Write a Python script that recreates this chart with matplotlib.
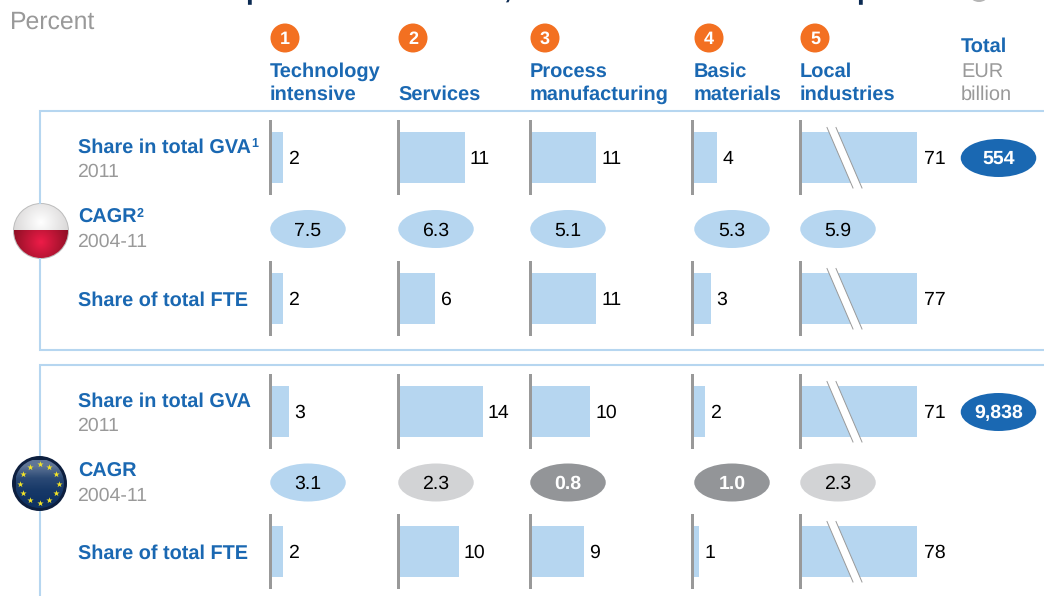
import matplotlib
matplotlib.use('Agg')
import matplotlib.pyplot as plt
import numpy as np
from matplotlib.colors import LinearSegmentedColormap
from matplotlib.patches import Circle, Ellipse, Polygon, Rectangle

plt.rcParams['font.family'] = ['Liberation Sans', 'DejaVu Sans']
plt.rcParams['text.hinting'] = 'no_hinting'

sectors = ['Technology\nintensive', 'Services', 'Process\nmanufacturing', 'Basic\nmaterials', 'Local\nindustries']
pl_gva = [2, 11, 11, 4, 71]
pl_cagr = [7.5, 6.3, 5.1, 5.3, 5.9]
pl_fte = [2, 6, 11, 3, 77]
eu_gva = [3, 14, 10, 2, 71]
eu_cagr = [3.1, 2.3, 0.8, 1.0, 2.3]
eu_fte = [2, 10, 9, 1, 78]
totals = ['554', '9,838']
pl_shade = ['blue', 'blue', 'blue', 'blue', 'blue']
eu_shade = ['blue', 'light', 'dark', 'dark', 'light']

BLUE = '#1a68b2'
LIGHT = '#b6d6f0'
GREY = '#999999'
ORANGE = '#f37021'
col_x = [270, 398, 530, 694, 800]
axis_x = [270.5, 398.5, 530, 692.7, 800]
px_per_unit = 6
broken_w = 117

fig = plt.figure(figsize=(10.44, 5.96), dpi=100)
ax = fig.add_axes([0, 0, 1, 1])
ax.set_xlim(0, 1044)
ax.set_ylim(596, 0)
ax.axis('off')

# only the descenders of the cropped headline are left in the picture
for x, ch in [(245.5, 'p'), (503, ','), (856.5, 'p')]:
    ax.text(x, -2, ch, fontsize=20, fontweight='bold', color='#0b2a52', va='baseline')
ax.add_patch(Ellipse((979, -5), 18, 14, color='#b5b5b5', lw=0))

ax.text(10, 22.5, 'Percent', fontsize=17.8, color=GREY, va='center')

for i, (x, name) in enumerate(zip(col_x, sectors)):
    ax.add_patch(Circle((x + 15, 38), 14.5, color=ORANGE, lw=0))
    ax.text(x + 15, 39, str(i + 1), color='white', fontsize=13, fontweight='bold', ha='center', va='center')
    lines = name.split('\n')
    ax.text(x, 94.5, lines[-1], color=BLUE, fontsize=14.4, fontweight='bold', va='center')
    if len(lines) == 2:
        ax.text(x, 71.5, lines[0], color=BLUE, fontsize=14.4, fontweight='bold', va='center')

ax.text(961, 47, 'Total', color=BLUE, fontsize=14.4, fontweight='bold', va='center')
ax.text(961, 71.5, 'EUR', color=GREY, fontsize=14.4, va='center')
ax.text(961, 94.5, 'billion', color=GREY, fontsize=14.4, va='center')

# panel outlines, open on the right
for top, bottom in [(110.5, 349.5), (364.5, 610)]:
    ax.plot([1044, 40, 40, 1044], [top, top, bottom, bottom], color=LIGHT, lw=1.5, solid_joinstyle='miter')


def bars(vals, yc):
    for x, v in zip(axis_x, vals):
        broken = v > 20
        w = broken_w if broken else v * px_per_unit
        ax.add_patch(Rectangle((x, yc - 25.4), w, 50.8, color=LIGHT, lw=0))
        ax.add_patch(Rectangle((x - 1.5, yc - 37.5), 3.2, 75, color=GREY, lw=0))
        if broken:
            top, bot = yc - 30, yc + 30.5
            ax.add_patch(Polygon([(x + 27, top), (x + 36, top), (x + 62, bot), (x + 53, bot)],
                                 facecolor='white', edgecolor='none'))
            ax.plot([x + 27, x + 53], [top, bot], color=GREY, lw=0.7)
            ax.plot([x + 36, x + 62], [top, bot], color=GREY, lw=0.7)
        ax.text(x + w + (7 if broken else 5.5), yc + 1.5, str(v), fontsize=14, color='black', va='center')


def bubbles(vals, shades, yc):
    for x, v, s in zip(col_x, vals, shades):
        fc = {'blue': LIGHT, 'light': '#d2d3d5', 'dark': '#939598'}[s]
        tc = 'white' if s == 'dark' else 'black'
        ax.add_patch(Ellipse((x + 38, yc), 75.5, 38, color=fc, lw=0))
        ax.text(x + 38, yc + 1.5, f'{v:.1f}', fontsize=14, color=tc, ha='center', va='center',
                fontweight='bold' if s == 'dark' else 'normal')


def row_label(y, main, sub=None, sup=None):
    t = ax.text(78, y, main, color=BLUE, fontsize=14.3, fontweight='bold', va='center')
    if sup:
        fig.canvas.draw()
        bb = t.get_window_extent()
        ax.text(bb.x1 + 0.5, y - 3.5, sup, color=BLUE, fontsize=9, fontweight='bold', va='center')
    if sub:
        ax.text(77.5, y + 24, sub, color=GREY, fontsize=14, va='center')


row_label(147.5, 'Share in total GVA', '2011', '1')
row_label(217.5, 'CAGR', '2004-11', '2')
row_label(301, 'Share of total FTE')
row_label(401.5, 'Share in total GVA', '2011')
row_label(471.5, 'CAGR', '2004-11')
row_label(554, 'Share of total FTE')

bars(pl_gva, 157.5)
bubbles(pl_cagr, pl_shade, 229)
bars(pl_fte, 298.5)
bars(eu_gva, 411.5)
bubbles(eu_cagr, eu_shade, 482.5)
bars(eu_fte, 551.5)

for yc, t in zip([158, 412], totals):
    ax.add_patch(Ellipse((998.5, yc), 75.5, 38, color=BLUE, lw=0))
    ax.text(998.5, yc + 1, t, color='white', fontsize=14, fontweight='bold', ha='center', va='center')


def shaded(cx, cy, r, lo, hi, extent, z):
    # radial shading across a ball, brightest at the given centre
    gx, gy = np.meshgrid(np.linspace(extent[0], extent[1], 80), np.linspace(extent[3], extent[2], 80))
    d = np.hypot(gx - cx, gy - cy) / r
    cmap = LinearSegmentedColormap.from_list('s', [lo, hi])
    im = ax.imshow(d, extent=extent, cmap=cmap, vmin=0, vmax=1, aspect='auto', zorder=z)
    return im


# Polish flag ball
ax.add_patch(Circle((41, 231), 28, color='#bdbdbd', lw=0, zorder=1.5))
white = shaded(41, 222, 30, '#ffffff', '#d8d6d6', (14, 68, 258, 204), 2)
white.set_clip_path(Circle((41, 231), 27, transform=ax.transData))
red = shaded(41, 242, 30, '#ee1c48', '#8c0f24', (14, 68, 258, 230), 2.1)
red.set_clip_path(Circle((41, 231), 27, transform=ax.transData))

# EU flag ball
ax.add_patch(Circle((39.5, 483.5), 27.5, color='#0d1f3f', lw=0, zorder=2))
glow = ax.imshow(np.array([[0.0], [0.1], [0.35], [1.0]]), extent=(16, 64, 508, 460),
                 cmap=LinearSegmentedColormap.from_list('b', ['#0f3263', '#5f7596']),
                 aspect='auto', zorder=2.1, origin='lower', interpolation='bilinear')
glow.set_clip_path(Circle((39.5, 483.5), 24.5, transform=ax.transData))
star_angles = np.radians(np.arange(12) * 30)
ax.scatter(39.5 + 19.4 * np.sin(star_angles), 483.5 - 19.4 * np.cos(star_angles),
           marker='*', s=22, color='#f4e528', lw=0, zorder=3)
ax.set_xlim(0, 1044)
ax.set_ylim(596, 0)

fig.savefig('out.png', dpi=100)
